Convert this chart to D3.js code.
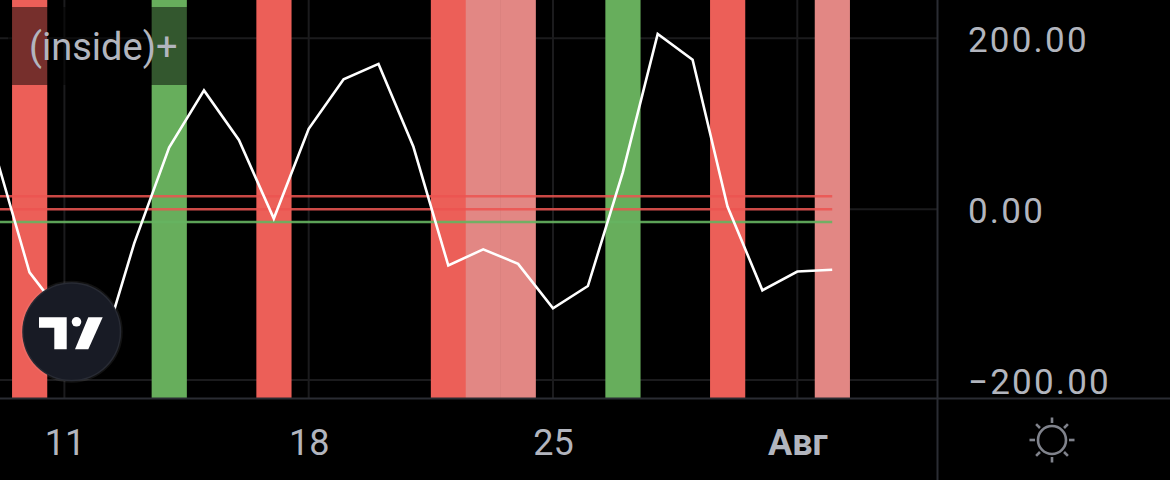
<!DOCTYPE html>
<html>
<head>
<meta charset="utf-8">
<script src="https://cdn.jsdelivr.net/npm/d3@7"></script>
<style>
  html, body { margin: 0; padding: 0; background: #000; }
  svg { display: block; }
</style>
</head>
<body>
<svg id="chart" width="1170" height="480"></svg>
<script>
// ---- data ----
const dates = ["2023-07-09","2023-07-10","2023-07-11","2023-07-12","2023-07-13","2023-07-14","2023-07-15",
  "2023-07-16","2023-07-17","2023-07-18","2023-07-19","2023-07-20","2023-07-21","2023-07-22","2023-07-23",
  "2023-07-24","2023-07-25","2023-07-26","2023-07-27","2023-07-28","2023-07-29","2023-07-30","2023-07-31",
  "2023-08-01","2023-08-02"];
const values = [68, -74, -127, -176, -40, 72, 139, 81, -11, 94, 152, 170, 73, -66, -47, -64, -116, -90,
  43, 205, 175, 3, -95, -73, -71];
const barDates = ["2023-07-10","2023-07-14","2023-07-17","2023-07-22","2023-07-23","2023-07-24",
  "2023-07-27","2023-07-30","2023-08-02"];
const barTypes = ["down","up","down","down","weak","weak","up","down","weak"];
const levelValues = [15, 0, -15];
const levelTypes = ["down","down","up"];
const xTickDates = ["2023-07-11","2023-07-18","2023-07-25","2023-08-01"];
const xTickLabels = ["11","18","25","Авг"];
const yTickValues = [200, 0, -200];
const legendLabel = "(inside)+";

// ---- setup ----
const W = 1170, H = 480, plotW = 937, plotH = 398;
const svg = d3.select("#chart");
const parse = d3.utcParse("%Y-%m-%d");
const barColor = {down: "#ec5f58", up: "#67ae5c", weak: "#e28784"};
const levelColor = {down: "rgba(236,84,80,0.85)", up: "rgba(102,180,96,0.9)"};
const textColor = "#b2b5be";

const x = d3.scaleUtc()
  .domain([parse("2023-07-10"), parse("2023-08-02")])
  .range([29.5, 832.2]);
const y = d3.scaleLinear().domain([-200, 200]).range([380, 38.3]);
const step = x(parse("2023-07-11")) - x(parse("2023-07-10"));

svg.append("rect").attr("width", W).attr("height", H).attr("fill", "#000");

svg.append("defs").append("clipPath").attr("id", "plotclip")
  .append("rect").attr("x", 0).attr("y", 0).attr("width", plotW).attr("height", plotH);

const plot = svg.append("g").attr("clip-path", "url(#plotclip)");

// grid
const grid = plot.append("g");
grid.selectAll("line.vx").data(xTickDates).join("line")
  .attr("x1", d => x(parse(d))).attr("x2", d => x(parse(d)))
  .attr("y1", 0).attr("y2", plotH)
  .attr("stroke", "#1b1b1d").attr("stroke-width", 2);
grid.selectAll("line.hy").data(yTickValues).join("line")
  .attr("x1", 0).attr("x2", plotW)
  .attr("y1", d => y(d)).attr("y2", d => y(d))
  .attr("stroke", "#1b1b1d").attr("stroke-width", 2);

// bars
plot.selectAll("rect.bar").data(barDates.map((d, i) => ({d: parse(d), t: barTypes[i]}))).join("rect")
  .attr("class", "bar")
  .attr("x", d => x(d.d) - step / 2)
  .attr("width", step + 0.3)
  .attr("y", 0).attr("height", plotH)
  .attr("fill", d => barColor[d.t]);

// legend backdrop
plot.append("rect").attr("x", 8).attr("y", 7).attr("width", 180).attr("height", 78)
  .attr("fill", "rgba(0,0,0,0.5)");

// level lines
plot.selectAll("line.level").data(levelValues.map((v, i) => ({v, t: levelTypes[i]}))).join("line")
  .attr("x1", 0).attr("x2", x(parse(dates[dates.length - 1])))
  .attr("y1", d => y(d.v)).attr("y2", d => y(d.v))
  .attr("stroke", d => levelColor[d.t]).attr("stroke-width", 2.5);

// value line
const series = dates.map((d, i) => ({d: parse(d), v: values[i]}));
plot.append("path").datum(series)
  .attr("d", d3.line().x(d => x(d.d)).y(d => y(d.v)))
  .attr("fill", "none").attr("stroke", "#ffffff").attr("stroke-width", 2.6)
  .attr("stroke-linejoin", "miter");

// legend text
svg.append("text").attr("x", 29).attr("y", 60).text(legendLabel)
  .attr("font-family", "Roboto, sans-serif").attr("font-size", 38)
  .attr("fill", textColor);

// borders
svg.append("line").attr("x1", plotW + 0.5).attr("x2", plotW + 0.5).attr("y1", 0).attr("y2", H)
  .attr("stroke", "#2a2c33").attr("stroke-width", 2);
svg.append("line").attr("x1", 0).attr("x2", W).attr("y1", plotH + 0.5).attr("y2", plotH + 0.5)
  .attr("stroke", "#2a2c33").attr("stroke-width", 2);

// right axis
const yAxis = d3.axisRight(y).tickValues(yTickValues).tickSize(0).tickPadding(0)
  .tickFormat(d => d3.format(".2f")(d).replace("-", "\u2212"));
const gy = svg.append("g").attr("transform", `translate(968,0)`).call(yAxis);
gy.select(".domain").remove();
gy.selectAll("text")
  .attr("font-family", "Roboto, sans-serif").attr("font-size", 35)
  .attr("letter-spacing", 2.2)
  .attr("fill", textColor).attr("dy", "0.38em").attr("x", 0);

// bottom axis
const xAxis = d3.axisBottom(x).tickValues(xTickDates.map(parse)).tickSize(0).tickPadding(0)
  .tickFormat((d, i) => xTickLabels[i]);
const gx = svg.append("g").attr("transform", `translate(0,455)`).call(xAxis);
gx.select(".domain").remove();
gx.selectAll("text")
  .attr("font-family", "Roboto, sans-serif").attr("font-size", 36)
  .attr("fill", textColor).attr("dy", 0).attr("y", 0)
  .attr("font-weight", (d, i) => xTickLabels[i] === "Авг" ? "bold" : "normal");

// gear icon
const gear = svg.append("g").attr("transform", "translate(1052,440)")
  .attr("stroke", "#80838c").attr("stroke-width", 2.6).attr("fill", "none");
gear.append("circle").attr("r", 14);
d3.range(8).forEach(i => {
  const a = i * Math.PI / 4;
  gear.append("line")
    .attr("x1", 17 * Math.cos(a)).attr("y1", 17 * Math.sin(a))
    .attr("x2", 22.5 * Math.cos(a)).attr("y2", 22.5 * Math.sin(a));
});

// TradingView logo
const logo = svg.append("g");
logo.append("circle").attr("cx", 71.7).attr("cy", 331.7).attr("r", 49.5)
  .attr("fill", "#181b25").attr("stroke", "rgba(255,255,255,0.07)").attr("stroke-width", 3);
logo.append("path")
  .attr("d", "M39,317.3 H66.7 V349.3 H54.3 V327.7 H39 Z")
  .attr("fill", "#fff");
logo.append("circle").attr("cx", 76.5).attr("cy", 321.8).attr("r", 4.8).attr("fill", "#fff");
logo.append("path")
  .attr("d", "M88.3,317.3 H102.7 L88.3,349.3 H75 Z")
  .attr("fill", "#fff");
</script>
</body>
</html>
